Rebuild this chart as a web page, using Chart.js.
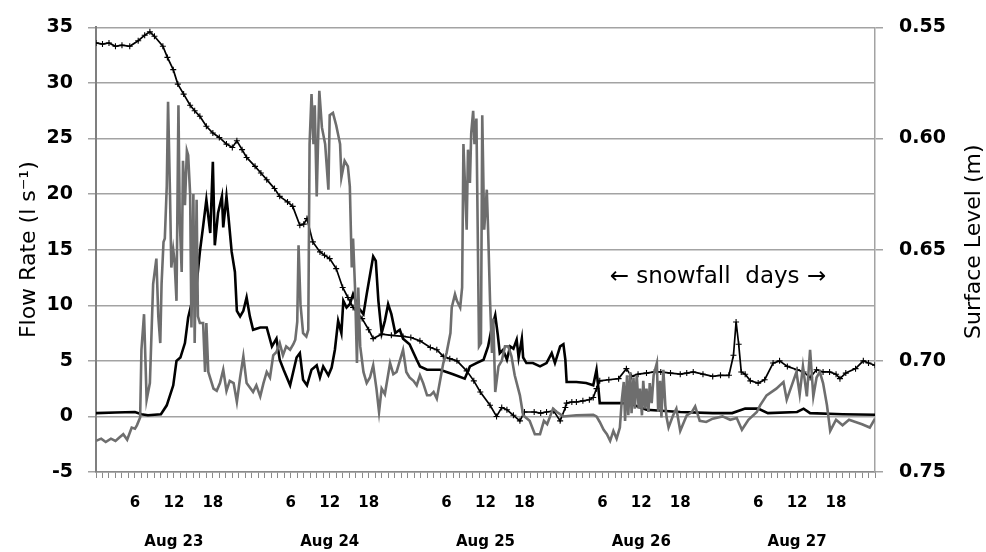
<!doctype html>
<html lang="en">
<head>
<meta charset="utf-8">
<script src="https://cdn.jsdelivr.net/npm/chart.js"></script>
<style>
  html, body { margin: 0; padding: 0; background: #fff; }
</style>
</head>
<body>
<canvas id="myChart" width="986" height="552"></canvas>

<script>
  // time axis: hours since Aug 23 00:00
  const dayLabels = ['Aug 23', 'Aug 24', 'Aug 25', 'Aug 26', 'Aug 27'];
  const hourMarks = [6, 12, 18];
  const levelTicks = [0.55, 0.60, 0.65, 0.70, 0.75];

  const flowTitle = 'Flow Rate (l s\u207B\u00B9)';
  const levelTitle = 'Surface Level (m)';
  const noteText = '\u2190 snowfall  days \u2192';
  const noteHour = 95.8;
  const noteFlow = 12.5;

  // surface level (m), right axis, black crosses
  const levelHours = [0, 1, 2, 3, 4, 5.2, 6.5, 7.5, 8.3, 9, 10.3, 11, 11.9, 12.6, 13.5, 14.5, 15.2, 16, 17, 18, 19, 20.1, 21, 21.7, 22.5, 23.2,
    24.5, 25.4, 26.3, 27.5, 28.3, 29.5, 30.3, 31.4, 32, 32.5, 33.4, 34.5, 35.2, 36, 37, 38, 38.8, 39.6, 41, 42, 42.7, 44, 45.5, 47.3,
    48.5, 49.9, 51.5, 52.5, 53.5, 54.5, 55.6, 57.1, 58.2, 59.2, 60.7, 61.7, 62.5, 63.3, 64.3, 65.3, 66, 67.5, 68.5, 69.4, 70.5, 71.5,
    72.3, 72.5, 73.3, 74, 75, 76, 76.6, 77.1, 77.6, 79, 80.5, 81.7, 82.5, 83.5, 84.8, 86, 87, 88.5, 90, 91, 92, 93.5, 95, 96.2,
    97.5, 98.2, 98.6, 99, 99.4, 100, 100.8, 102, 103, 104.3, 105.3, 106.5, 108, 109, 110, 111, 112, 113, 114, 114.6, 115.5, 117, 118.2, 119, 120];
  const levelValues = [0.557, 0.5575, 0.557, 0.5585, 0.558, 0.5585, 0.556, 0.5535, 0.552, 0.554, 0.5585, 0.5635, 0.569, 0.5755, 0.58, 0.585, 0.5875, 0.59, 0.5945, 0.5975, 0.5995, 0.6025, 0.604, 0.601, 0.605, 0.6085,
    0.6125, 0.6155, 0.6185, 0.6225, 0.626, 0.6285, 0.6305, 0.639, 0.6385, 0.636, 0.6465, 0.651, 0.6525, 0.654, 0.6585, 0.667, 0.6715, 0.676, 0.681, 0.686, 0.69, 0.688, 0.6885, 0.689,
    0.6895, 0.691, 0.694, 0.695, 0.698, 0.699, 0.70, 0.7045, 0.709, 0.714, 0.72, 0.725, 0.721, 0.722, 0.7245, 0.727, 0.723, 0.723, 0.7235, 0.723, 0.7225, 0.727,
    0.721, 0.719, 0.7185, 0.7185, 0.718, 0.7175, 0.7165, 0.7125, 0.709, 0.7085, 0.708, 0.7035, 0.707, 0.706, 0.7055, 0.705, 0.705, 0.7055, 0.706, 0.7055, 0.705, 0.706, 0.707, 0.7065,
    0.7065, 0.6975, 0.6825, 0.6925, 0.705, 0.706, 0.709, 0.71, 0.7085, 0.701, 0.70, 0.7025, 0.704, 0.705, 0.7075, 0.704, 0.705, 0.705, 0.706, 0.708, 0.7055, 0.7035, 0.70, 0.701, 0.702];

  // flow rate (l/s), black line
  const blackHours = [0, 3, 6, 7, 8, 10, 10.9, 11.9, 12.4, 13, 13.7, 14.2, 14.7, 15.5, 16, 16.5, 17, 17.6, 18, 18.3, 18.8, 19.4, 19.6, 20.1, 20.4, 20.9, 21.4, 21.7, 22.2, 22.7, 23.2, 23.7,
    24.2, 25.3, 26.3, 27.1, 27.8, 28.3, 28.9, 29.9, 30.9, 31.4, 31.9, 32.5, 33.2, 34, 34.5, 35, 35.8, 36.3, 36.8, 37.3, 37.8, 38.1, 38.6, 39.1, 39.6, 40.4, 41.2, 41.7, 42.2, 42.7, 43.1, 43.5, 44, 44.5, 45, 45.5, 46.1, 46.8, 47.3,
    48.3, 49.4, 49.9, 51, 53, 55, 56.8, 57.6, 58.6, 59.7, 60.4, 60.9, 61.5, 61.9, 62.2, 62.7, 63.3, 63.8, 64.3, 64.8, 65.1, 65.6, 65.8, 66.3, 67.3, 68.4, 69.4, 70.2, 70.7, 71.5,
    72, 72.3, 72.5, 74, 75.5, 76.6, 77.1, 77.4, 77.6, 79, 82, 84.8, 90, 95, 98, 100, 102, 103.5, 108, 109, 110, 115, 120];
  const blackFlow = [0.3, 0.35, 0.4, 0.2, 0.1, 0.2, 1.0, 2.8, 5.0, 5.3, 6.6, 8.9, 10.1, 11.9, 14.8, 17.1, 19.5, 16.5, 22.9, 15.4, 18.3, 19.8, 17.0, 19.8, 18.0, 14.8, 13.0, 9.5, 9.0, 9.5, 10.7, 9.0,
    7.8, 8.0, 8.0, 6.3, 7.0, 5.1, 4.2, 2.8, 5.3, 5.7, 3.3, 2.8, 4.2, 4.6, 3.5, 4.5, 3.7, 4.4, 6.0, 8.6, 7.5, 10.4, 9.8, 10.1, 11.0, 9.8, 9.2, 11.0, 12.7, 14.4, 14.0, 10.4, 7.5, 8.6, 10.1, 9.2, 7.5, 7.8, 7.0,
    6.5, 5.1, 4.5, 4.2, 4.2, 3.8, 3.4, 4.5, 4.8, 5.1, 6.3, 7.8, 9.1, 7.3, 5.7, 6.0, 5.1, 6.3, 6.1, 6.9, 5.3, 7.0, 5.3, 4.8, 4.8, 4.5, 4.8, 5.7, 4.8, 6.3,
    6.5, 5.1, 3.1, 3.1, 3.0, 2.8, 4.2, 2.5, 1.2, 1.2, 1.2, 0.6, 0.4, 0.3, 0.3, 0.7, 0.7, 0.3, 0.4, 0.7, 0.3, 0.2, 0.15];

  // flow rate (l/s), grey line
  const greyHours = [0, 0.8, 1.5, 2.3, 3, 3.6, 4.2, 4.8, 5.5, 6, 6.3, 6.8, 7, 7.4, 7.8, 8.3, 8.8, 9.3, 9.6, 9.9, 10.1, 10.4, 10.6, 10.9, 11.1, 11.4, 11.6, 11.9, 12.1, 12.4, 12.7, 12.9,
    13.2, 13.4, 13.7, 14, 14.2, 14.5, 14.7, 15, 15.2, 15.5, 15.7, 16, 16.5, 16.8, 17, 17.3, 18.1, 18.6, 19.1, 19.6, 20.1, 20.6, 21.2, 21.7, 22.2, 22.7, 23.2, 23.7,
    24.2, 24.7, 25.3, 25.8, 26.3, 26.8, 27.3, 27.8, 28.3, 28.8, 29.3, 29.9, 30.4, 30.7, 31, 31.2, 31.5, 31.9, 32.4, 32.7, 32.9, 33.2, 33.5, 33.7, 34, 34.4, 34.8, 35.3, 35.8,
    36, 36.5, 37, 37.6, 37.8, 38.3, 38.8, 39.1, 39.4, 39.6, 39.9, 40.2, 40.4, 40.7, 41.2, 41.7, 42.2, 42.7, 43.2, 43.6, 44, 44.5, 45.3, 45.8, 46.3, 46.8, 47.3, 47.8,
    48.3, 48.9, 49.4, 49.9, 50.4, 51, 51.5, 52, 52.5, 53, 53.5, 54, 54.6, 54.8, 55.3, 55.6, 56.1, 56.4, 56.6, 57.1, 57.3, 57.6, 57.8, 58.1, 58.3, 58.6, 58.8, 59, 59.3, 59.5,
    59.8, 60.2, 60.4, 60.7, 61, 61.2, 61.5, 62, 62.5, 63, 63.5, 64, 64.5, 65.3, 65.8, 66.8, 67.6, 68.4, 69, 69.5, 70.4, 71, 72, 74, 76.6, 77.1, 77.6, 78.2, 78.7, 79.2, 79.7, 80.2, 80.7,
    81, 81.3, 81.5, 81.8, 82, 82.3, 82.5, 82.8, 83, 83.3, 83.6, 83.8, 84.1, 84.3, 84.6, 84.8, 85.1, 85.3, 85.6, 85.9, 86.4, 86.6, 86.9, 87.1, 87.4, 87.7, 87.9, 88.2, 88.9, 89.4, 90,
    91, 91.8, 92.3, 93, 94, 95, 96.5, 97.7, 98.7, 99.5, 100.5, 101.8, 102.3, 103.3, 104.8, 105.9, 106.4, 107.3, 107.9, 108.4, 108.9, 109.5, 110, 110.5, 111, 111.5, 112, 112.6, 113.1,
    114, 115, 116, 117, 118, 119.2, 120];
  const greyFlow = [-2.2, -2.0, -2.3, -2.0, -2.2, -1.9, -1.6, -2.1, -1.0, -1.1, -0.8, -0.1, 6.0, 9.2, 1.5, 3.0, 11.9, 14.2, 9.0, 6.6, 11.9, 15.7, 16.0, 20.7, 28.3, 20.0, 13.4, 15.0, 14.0, 10.4, 28.0, 17.7,
    13.0, 23.0, 19.0, 23.9, 23.5, 20.0, 8.0, 20.0, 6.6, 19.5, 9.0, 8.4, 8.4, 4.0, 8.4, 4.0, 2.5, 2.3, 3.0, 4.2, 2.3, 3.2, 3.0, 1.3, 3.5, 5.4, 3.0, 2.6,
    2.2, 2.8, 1.8, 3.0, 4.0, 3.5, 5.5, 5.8, 6.6, 5.5, 6.3, 6.0, 6.5, 6.9, 8.5, 15.4, 10.1, 7.5, 7.2, 7.8, 24.5, 29.0, 24.5, 28.0, 19.8, 29.3, 26.0, 24.5, 20.4,
    27.1, 27.3, 26.2, 24.5, 21.5, 23.0, 22.5, 20.7, 13.4, 16.0, 11.6, 4.8, 11.6, 6.3, 4.0, 3.0, 3.5, 4.6, 2.5, 0.4, 2.5, 2.0, 4.8, 3.8, 4.0, 5.0, 6.0, 4.0,
    3.5, 3.2, 2.8, 3.7, 3.0, 1.9, 1.9, 2.2, 1.6, 3.2, 4.8, 5.7, 7.5, 9.8, 11.0, 10.4, 9.8, 11.6, 24.5, 16.8, 24.0, 21.0, 25.5, 27.5, 24.5, 26.8, 16.8, 6.3, 6.6, 27.1,
    16.8, 20.4, 16.8, 10.4, 5.7, 8.8, 2.2, 4.5, 5.0, 6.3, 6.3, 5.4, 3.7, 1.9, 0.1, -0.4, -1.6, -1.6, -0.4, -0.7, 0.7, 0.4, 0.0, 0.1, 0.15, 0.0, -0.5, -1.2, -1.6, -2.2, -1.3, -2.0, -1.0,
    1.5, 3.1, -0.4, 3.7, 0.1, 4.0, 0.3, 3.5, 0.7, 3.7, 0.7, 2.5, 0.1, 3.2, 0.7, 2.5, 0.4, 3.0, 1.2, 3.7, 4.8, 0.4, 3.2, -0.1, 4.2, 1.0, -0.1, -1.0, 0.1, 0.7, -1.3,
    0.1, 0.4, 0.9, -0.4, -0.5, -0.2, 0.0, -0.3, -0.15, -1.2, -0.3, 0.4, 1.0, 1.9, 2.5, 3.1, 1.5, 3.0, 4.0, 2.0, 4.5, 1.8, 6.0, 1.8, 3.5, 4.0, 3.0, 1.0, -1.3,
    -0.3, -0.8, -0.3, -0.5, -0.7, -1.0, -0.2];

  const font = '"DejaVu Sans", sans-serif';
  const gridGrey = '#a3a3a3';

  function toPoints(xs, ys) {
    return xs.map(function(x, i) { return {x: x, y: ys[i]}; });
  }

  function hourLabel(v) {
    const h = v % 24;
    const d = Math.floor(v / 24);
    if (hourMarks.indexOf(h) < 0 || d >= dayLabels.length) return '';
    if (h === 12) return [String(h), '', dayLabels[d]];
    return String(h);
  }

  // axis titles and the note are plain canvas text
  const textPlugin = {
    id: 'texts',
    afterDraw(chart) {
      const ctx = chart.ctx;
      const area = chart.chartArea;
      const midY = (area.top + area.bottom) / 2;
      ctx.save();
      ctx.fillStyle = '#000';
      ctx.textAlign = 'center';
      ctx.textBaseline = 'alphabetic';
      ctx.font = '22px ' + font;

      ctx.save();
      ctx.translate(35, midY);
      ctx.rotate(-Math.PI / 2);
      ctx.fillText(flowTitle, 0, 0);
      ctx.restore();

      ctx.save();
      ctx.translate(980, midY - 8);
      ctx.rotate(-Math.PI / 2);
      ctx.fillText(levelTitle, 0, 0);
      ctx.restore();

      ctx.font = '23px ' + font;
      ctx.textBaseline = 'middle';
      ctx.fillText(noteText, chart.scales.x.getPixelForValue(noteHour), chart.scales.y.getPixelForValue(noteFlow));
      ctx.restore();
    }
  };

  var canvas = document.getElementById('myChart');
  var setup = {
    type: 'line',
    data: {
      datasets: [{
        label: 'Flow (grey)',
        data: toPoints(greyHours, greyFlow),
        borderColor: '#6e6e6e',
        borderWidth: 2.6,
        pointRadius: 0,
        yAxisID: 'y'
      }, {
        label: 'Surface level',
        data: toPoints(levelHours, levelValues),
        borderColor: '#000',
        borderWidth: 1.7,
        pointStyle: 'cross',
        pointRadius: 3,
        pointBorderWidth: 1.1,
        pointBorderColor: '#000',
        yAxisID: 'y1'
      }, {
        label: 'Flow (black)',
        data: toPoints(blackHours, blackFlow),
        borderColor: '#000',
        borderWidth: 2.6,
        pointRadius: 0,
        yAxisID: 'y'
      }]
    },
    plugins: [textPlugin],
    options: {
      responsive: false,
      animation: false,
      layout: { padding: { top: 17, left: 0, right: 0, bottom: 0 } },
      plugins: {
        legend: { display: false },
        tooltip: { enabled: false }
      },
      scales: {
        x: {
          type: 'linear',
          min: 0,
          max: 120,
          grid: { drawOnChartArea: false, drawTicks: true, tickLength: 6, color: '#8a8a8a', lineWidth: 1 },
          border: { display: true, color: '#8a8a8a', width: 1.5 },
          ticks: {
            stepSize: 1,
            autoSkip: false,
            maxRotation: 0,
            padding: 16,
            color: '#000',
            font: { family: font, size: 15, weight: 'bold', lineHeight: 1.27 },
            callback: function(v) { return hourLabel(v); }
          },
          afterFit: function(s) { s.height = 80; }
        },
        y: {
          position: 'left',
          min: -5,
          max: 35,
          grid: { color: gridGrey, lineWidth: 1.5, tickLength: 8 },
          border: { color: '#7f7f7f', width: 2 },
          ticks: {
            stepSize: 5,
            padding: 15,
            color: '#000',
            font: { family: font, size: 19, weight: 'bold' }
          },
          afterFit: function(s) { s.width = 96; }
        },
        y1: {
          position: 'right',
          min: 0.55,
          max: 0.75,
          reverse: true,
          grid: { drawOnChartArea: false, color: gridGrey, lineWidth: 1.5, tickLength: 8 },
          border: { color: gridGrey, width: 1.5 },
          afterBuildTicks: function(s) { s.ticks = levelTicks.map(function(v) { return {value: v}; }); },
          ticks: {
            padding: 16,
            color: '#000',
            font: { family: font, size: 19, weight: 'bold' },
            callback: function(v) { return Number(v).toFixed(2); }
          },
          afterFit: function(s) { s.width = 111; }
        }
      }
    }
  };
  chart = new Chart(canvas, setup);
</script>
</body>
</html>
